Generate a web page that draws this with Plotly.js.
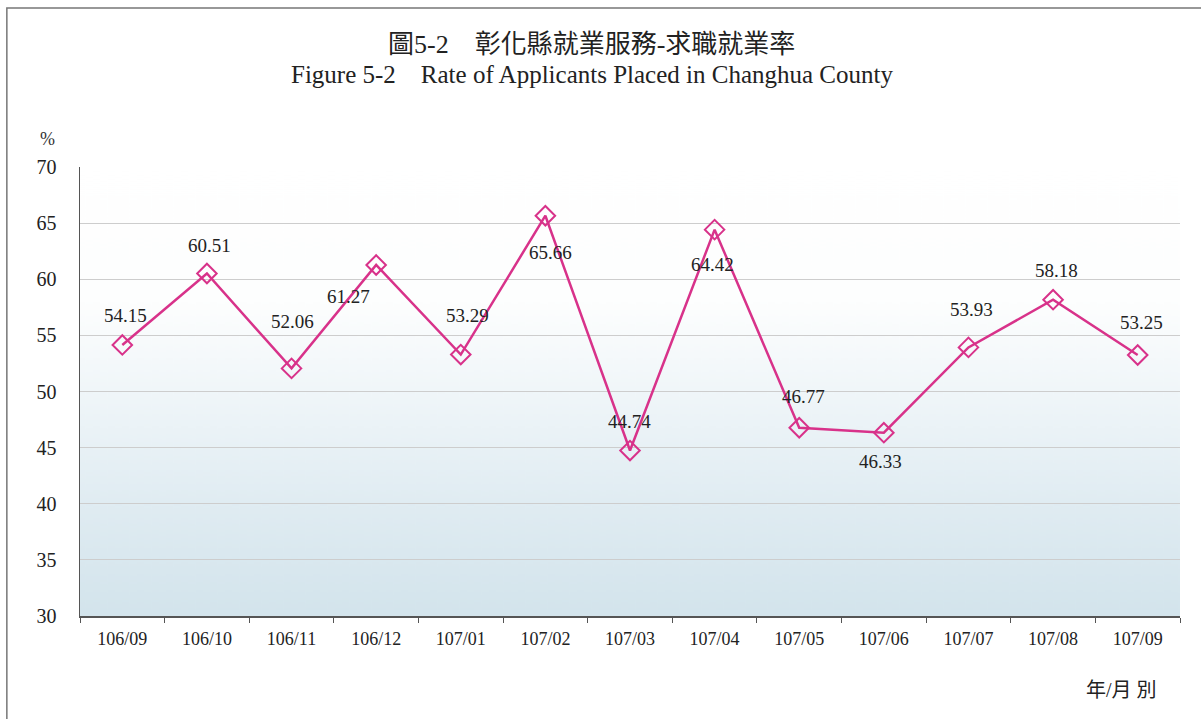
<!DOCTYPE html>
<html>
<head>
<meta charset="utf-8">
<script src="https://cdn.plot.ly/plotly-3.0.1.min.js"></script>
<style>
  html, body { margin: 0; padding: 0; background: #fff; }
  #chart { width: 1201px; height: 719px; }
</style>
</head>
<body>
<div id="chart"></div>
<script>
// datos del grafico
var months = ['106/09', '106/10', '106/11', '106/12', '107/01', '107/02', '107/03',
              '107/04', '107/05', '107/06', '107/07', '107/08', '107/09'];
var rates = [54.15, 60.51, 52.06, 61.27, 53.29, 65.66, 44.74, 64.42, 46.77, 46.33, 53.93, 58.18, 53.25];
var yTicks = [30, 35, 40, 45, 50, 55, 60, 65, 70];
var titleZh = '圖5-2　彰化縣就業服務-求職就業率';
var titleEn = 'Figure 5-2　Rate of Applicants Placed in Changhua County';

// desplazamiento de cada etiqueta respecto a su punto (px)
var labelShiftX = [3, 3, 1, -28, 7, 5, -1, -2, 4, -3, 3, 3, 4];
var labelShiftY = [29, 28, 47, -32, 39, -37, 29, -35, 31, -29, 38, 29, 33];

var serif = 'Liberation Serif, Times New Roman, serif';
var cjk = 'Liberation Serif, Noto Sans CJK TC, serif';
var pink = '#d8328a';

// fondo degradado del area de trazado
function gradientImage() {
    var c = document.createElement('canvas');
    c.width = 300;
    c.height = 450;
    var g = c.getContext('2d');
    var grd = g.createLinearGradient(0, 0, 0, 450);
    grd.addColorStop(0, '#ffffff');
    grd.addColorStop(0.3, '#fdfefe');
    grd.addColorStop(0.5, '#f0f6f9');
    grd.addColorStop(0.75, '#e0ecf2');
    grd.addColorStop(1, '#d3e4ec');
    g.fillStyle = grd;
    g.fillRect(0, 0, 300, 450);
    return c.toDataURL('image/png');
}

var trace = {
    x: months,
    y: rates,
    type: 'scatter',
    mode: 'lines+markers',
    line: { color: pink, width: 2.5 },
    marker: {
        symbol: 'diamond-open',
        size: 15,
        color: pink,
        line: { color: pink, width: 2 }
    },
    hoverinfo: 'skip'
};

var annotations = rates.map(function(v, i) {
    return {
        x: months[i], y: v, xref: 'x', yref: 'y',
        text: v.toFixed(2), showarrow: false,
        xanchor: 'center', yanchor: 'middle',
        xshift: labelShiftX[i], yshift: labelShiftY[i],
        font: { family: serif, size: 19, color: '#222' }
    };
});
// titulos y textos sueltos
annotations.push({
    xref: 'paper', yref: 'paper', x: 0.465, y: 1.272,
    xanchor: 'center', yanchor: 'middle',
    text: titleZh, showarrow: false,
    font: { family: cjk, size: 26, color: '#222' }
});
annotations.push({
    xref: 'paper', yref: 'paper', x: 0.465, y: 1.205,
    xanchor: 'center', yanchor: 'middle',
    text: titleEn, showarrow: false,
    font: { family: serif, size: 25, color: '#222' }
});
annotations.push({
    xref: 'paper', yref: 'paper', x: -0.030, y: 1.062,
    xanchor: 'center', yanchor: 'middle',
    text: '%', showarrow: false,
    font: { family: serif, size: 18, color: '#333' }
});
annotations.push({
    xref: 'paper', yref: 'paper', x: 0.947, y: -0.165,
    xanchor: 'center', yanchor: 'middle',
    text: '年/月 別', showarrow: false,
    font: { family: cjk, size: 20, color: '#222' }
});

var layout = {
    width: 1201,
    height: 719,
    margin: { l: 80, r: 21, t: 167, b: 103 },
    paper_bgcolor: '#ffffff',
    plot_bgcolor: 'rgba(0,0,0,0)',
    showlegend: false,
    xaxis: {
        type: 'category',
        range: [-0.5, months.length - 0.5],
        tickson: 'boundaries',
        ticks: 'outside',
        ticklen: 5,
        tickcolor: '#555',
        ticklabelstandoff: 6,
        showline: true,
        linecolor: '#555',
        linewidth: 1.5,
        showgrid: false,
        tickfont: { family: serif, size: 18, color: '#222' },
        fixedrange: true
    },
    yaxis: {
        range: [30, 70],
        tickvals: yTicks,
        ticks: '',
        ticklabelstandoff: 18,
        showline: true,
        linecolor: '#555',
        linewidth: 1.5,
        showgrid: true,
        gridcolor: '#cdcdcd',
        gridwidth: 1,
        zeroline: false,
        tickfont: { family: serif, size: 20, color: '#222' },
        fixedrange: true
    },
    images: [{
        source: gradientImage(),
        xref: 'paper', yref: 'paper',
        x: 0, y: 1, sizex: 1, sizey: 1,
        xanchor: 'left', yanchor: 'top',
        sizing: 'stretch',
        layer: 'below'
    }],
    shapes: [{
        type: 'rect',
        xref: 'paper', yref: 'paper',
        x0: -0.0665, x1: 1.03, y0: -0.26, y1: 1.354,
        line: { color: '#777', width: 1.5 },
        fillcolor: 'rgba(0,0,0,0)',
        layer: 'below'
    }],
    annotations: annotations
};

Plotly.newPlot('chart', [trace], layout, { staticPlot: true, responsive: false });
</script>
</body>
</html>
